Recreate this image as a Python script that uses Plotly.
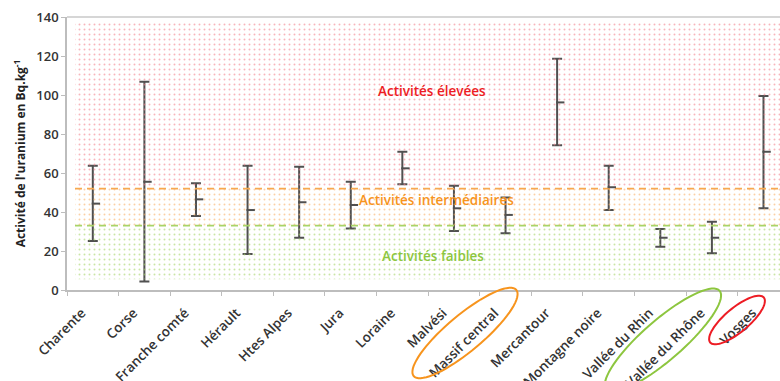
import math
import plotly.graph_objects as go

# ---- data ----
regions = ["Charente", "Corse", "Franche comté", "Hérault", "Htes Alpes", "Jura",
           "Loraine", "Malvési", "Massif central", "Mercantour", "Montagne noire",
           "Vallée du Rhin", "Vallée du Rhône", "Vosges"]
mean_vals = [44.3, 55.5, 46.5, 41.0, 45.0, 43.6, 62.4, 41.9, 38.5, 96.2, 52.7, 26.8, 26.8, 70.9]
max_vals = [63.7, 106.8, 54.7, 63.7, 63.2, 55.5, 70.9, 53.5, 47.5, 118.6, 63.7, 31.3, 35.0, 99.5]
min_vals = [25.1, 4.3, 38.0, 18.5, 26.8, 31.6, 54.2, 30.3, 29.1, 74.2, 41.0, 22.2, 18.8, 41.9]

band_names = ["Activités faibles", "Activités intermédiaires", "Activités élevées"]
band_limits = [5.5, 33.0, 52.0, 137.5]   # low / intermediate / high thresholds
band_label_y = [17.5, 46.0, 102.0]

# ---- styles ----
FONT = "Open Sans"
band_fg = ["#a6d46a", "#f9b06a", "#f2838f"]
band_text = ["#8dc63f", "#f7941d", "#ed1c24"]
dash_colors = {1: "#a8d468", 2: "#f7a850"}
bar_color = "#505050"

# plot-area geometry (pixels)
W, H = 780, 381
L, R, T, B = 67, 0, 17, 91
plot_w = W - L - R
plot_h = H - T - B
xr = [-0.5, 13.32]
x_start = xr[0] + 8 / (plot_w / (xr[1] - xr[0]))

fig = go.Figure()

# background dotted bands
for i in range(3):
    y0, y1 = band_limits[i], band_limits[i + 1]
    fig.add_trace(go.Scatter(
        x=[x_start, xr[1], xr[1], x_start, x_start], y=[y0, y0, y1, y1, y0],
        xaxis="x2", yaxis="y", mode="lines", line=dict(width=0),
        fill="toself", fillcolor="rgba(0,0,0,0)",
        fillpattern=dict(shape=".", size=5, solidity=0.12, fgcolor=band_fg[i],
                         fgopacity=0.6, bgcolor="rgba(255,255,255,0)"),
        hoverinfo="skip", showlegend=False))

# dashed threshold lines
for idx, col in dash_colors.items():
    fig.add_trace(go.Scatter(
        x=[x_start, xr[1]], y=[band_limits[idx]] * 2, xaxis="x2", yaxis="y",
        mode="lines", line=dict(color=col, width=1.6, dash="7px,5px"),
        hoverinfo="skip", showlegend=False))

# error bars (min-max range)
fig.add_trace(go.Scatter(
    x=regions, y=mean_vals, mode="markers",
    marker=dict(size=1, color="rgba(0,0,0,0)"),
    error_y=dict(type="data", symmetric=False,
                 array=[mx - m for mx, m in zip(max_vals, mean_vals)],
                 arrayminus=[m - mn for m, mn in zip(mean_vals, min_vals)],
                 color=bar_color, thickness=2, width=5),
    showlegend=False))

# mean marker (small dash right of the bar)
fig.add_trace(go.Scatter(
    x=[i + 0.06 for i in range(len(regions))], y=mean_vals, xaxis="x2", yaxis="y",
    mode="markers",
    marker=dict(symbol="line-ew", size=6, line=dict(color=bar_color, width=2)),
    showlegend=False, hoverinfo="skip"))

# band labels
label_x = [433, 436, 432]
for i in range(3):
    fig.add_annotation(
        x=(label_x[i] - L) / plot_w, xref="paper", y=band_label_y[i], yref="y",
        text=band_names[i], showarrow=False,
        font=dict(family=FONT, size=13.5, color=band_text[i], weight=600))

# ellipses highlighting some labels (pixel-space decoration)
def ellipse_path(cx, cy, a, b, ang_deg, n=72):
    th = math.radians(ang_deg)
    pts = []
    for k in range(n + 1):
        t = 2 * math.pi * k / n
        ex, ey = a * math.cos(t), b * math.sin(t)
        px = cx + ex * math.cos(th) + ey * math.sin(th)
        py = cy - ex * math.sin(th) + ey * math.cos(th)
        pts.append(((px - L) / plot_w, (T + plot_h - py) / plot_h))
    return "M " + " L ".join(f"{x:.4f},{y:.4f}" for x, y in pts) + " Z"

ellipses = [(465, 333, 67, 18, 40, "#f7941d"),
            (663, 340, 75, 20, 41, "#8dc63f"),
            (737, 320, 35, 12, 40, "#ed1c24")]
for cx, cy, a, b, ang, col in ellipses:
    fig.add_shape(type="path", xref="paper", yref="paper",
                  path=ellipse_path(cx, cy, a, b, ang),
                  line=dict(color=col, width=2))

# top border line
fig.add_shape(type="line", xref="paper", yref="paper", x0=0, x1=1, y0=1, y1=1,
              line=dict(color="#c8c8c8", width=1.5))

fig.update_layout(
    width=W, height=H,
    margin=dict(l=L, r=R, t=T, b=B, autoexpand=False),
    paper_bgcolor="white", plot_bgcolor="white",
    font=dict(family=FONT, color="#333333"),
    xaxis=dict(type="category", range=xr, tickson="boundaries",
               ticks="outside", ticklen=4, tickcolor="#bdbdbd",
               showline=True, linecolor="#bdbdbd", linewidth=1.5,
               showgrid=False, tickangle=-45, automargin=False,
               ticklabelshift=-11, ticklabelstandoff=8,
               tickfont=dict(family=FONT, size=13.5, color="#333333", weight=600)),
    xaxis2=dict(range=xr, overlaying="x", anchor="y", visible=False),
    yaxis=dict(range=[0, 140], dtick=20, ticks="outside", ticklen=4,
               tickcolor="#bdbdbd", showline=True, linecolor="#bdbdbd",
               linewidth=1.5, showgrid=False, zeroline=False, automargin=False,
               tickfont=dict(family=FONT, size=13, color="#333333", weight=600),
               title=dict(text="Activité de l'uranium en Bq.kg<sup>-1</sup>",
                          font=dict(family=FONT, size=12, color="#222222", weight=700),
                          standoff=8)),
    showlegend=False,
)

fig.write_html("out.html", config={"displayModeBar": False},
               post_script="document.body.style.margin='0';document.body.style.overflow='hidden';")
